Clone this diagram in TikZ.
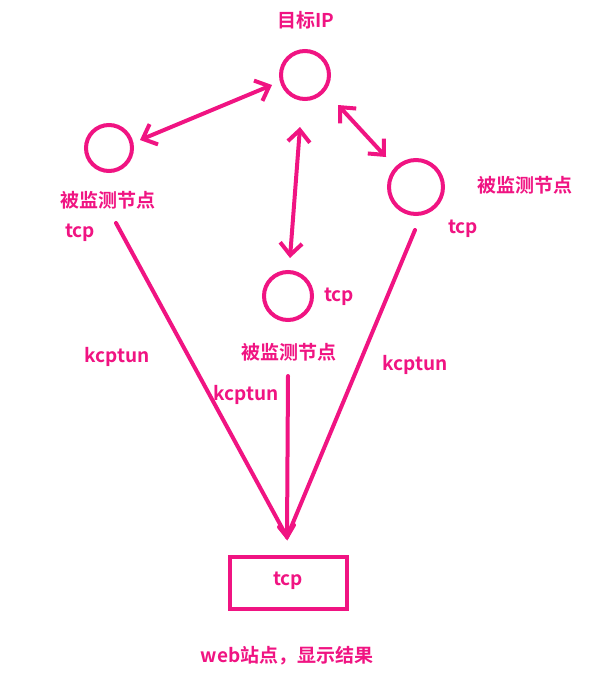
\documentclass[tikz,border=0pt]{standalone}
\usepackage{fontspec}
\setmainfont{Noto Sans CJK SC}[BoldFont={Noto Sans CJK SC Bold}]
\usetikzlibrary{arrows.meta}
\definecolor{pk}{RGB}{240,20,130}
\begin{document}
\begin{tikzpicture}[x=1pt,y=-1pt,
  circ/.style={draw=pk,line width=4pt,circle,minimum size=#1,inner sep=0pt},
  lab/.style={text=pk,font=\fontsize{19}{21}\selectfont\bfseries,inner sep=0pt},
  ln/.style={draw=pk,line width=4pt,line cap=round},
  dbl/.style={ln,{Straight Barb[length=12pt,width=22pt]}-{Straight Barb[length=12pt,width=22pt]}}]
\useasboundingbox (0,0) rectangle (613,678);
\node[circ=48pt] (t) at (305,75) {};
\node[circ=46pt] (l) at (109,148) {};
\node[circ=54pt] (r) at (416,187) {};
\node[circ=48pt] (m) at (288,296) {};
\node[draw=pk,line width=4pt,minimum width=117pt,minimum height=52pt,inner sep=0pt] (w) at (288.5,583) {};
\node[lab] (wt) at (288,581) {tcp};
\node[lab] (tl) at (306,20) {目标IP};
\node[lab] (ll) at (108,200) {被监测节点};
\node[lab] (lt) at (80,233) {tcp};
\node[lab] (rl) at (525,185) {被监测节点};
\node[lab] (rt) at (463,229) {tcp};
\node[lab] (mt) at (339,297) {tcp};
\node[lab] (ml) at (289,352) {被监测节点};
\node[lab] (k1) at (117,357) {kcptun};
\node[lab] (k2) at (246,395) {kcptun};
\node[lab] (k3) at (415,365) {kcptun};
\node[lab] (ws) at (287,656) {web站点，显示结果};
\coordinate (tip) at (287,537);
\coordinate (a1) at (116,223);
\coordinate (a2) at (415,230);
\coordinate (a3) at (288,376);
\draw[ln] (a1) -- (tip);
\draw[ln] (a2) -- (tip);
\draw[ln] (a3) -- (tip);
\draw[ln] (279,527) -- (tip) -- (294,525);
\coordinate (d1) at (140,140); \coordinate (d2) at (272,85);
\coordinate (d3) at (300,127); \coordinate (d4) at (290,258);
\coordinate (d5) at (338,105); \coordinate (d6) at (386,157);
\draw[dbl] (d1) -- (d2);
\draw[dbl] (d3) -- (d4);
\draw[dbl] (d5) -- (d6);
\end{tikzpicture}
\end{document}
